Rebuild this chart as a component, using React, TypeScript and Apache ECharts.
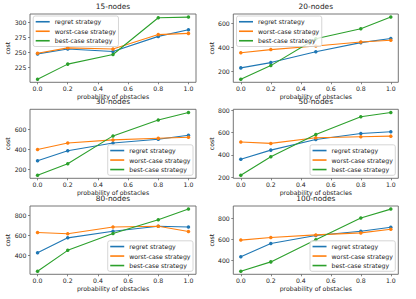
import React, { useEffect, useRef } from 'react';
import * as echarts from 'echarts';

// ---- data ----
const probabilities = [0.0, 0.2, 0.5, 0.8, 1.0];
const seriesNames = ['regret strategy', 'worst-case strategy', 'best-case strategy'];
const subplotTitles = ['15-nodes', '20-nodes', '30-nodes', '50-nodes', '80-nodes', '100-nodes'];

const regret15 = [248, 256, 252, 277, 288];
const worst15 = [249, 258, 256, 280, 282];
const best15 = [206, 231, 247, 308, 309];

const regret20 = [228, 272, 362, 438, 472];
const worst20 = [354, 380, 410, 443, 458];
const best20 = [134, 247, 470, 553, 650];

const regret30 = [286, 386, 463, 500, 540];
const worst30 = [398, 462, 493, 510, 520];
const best30 = [143, 256, 533, 690, 766];

const regret50 = [361, 442, 537, 591, 606];
const worst50 = [514, 502, 552, 561, 567];
const best50 = [218, 382, 582, 740, 779];

const regret80 = [429, 577, 643, 692, 685];
const worst80 = [630, 617, 685, 692, 640];
const best80 = [246, 453, 620, 757, 862];

const regret100 = [437, 562, 637, 678, 716];
const worst100 = [594, 618, 643, 662, 697];
const best100 = [300, 388, 597, 803, 887];

const xTickValues = [0.0, 0.2, 0.4, 0.6, 0.8, 1.0];
const yTicks15 = [225, 250, 275, 300];
const yTicks20 = [200, 400, 600];
const yTicks30 = [200, 400, 600];
const yTicks50 = [200, 400, 600, 800];
const yTicks80 = [400, 600, 800];
const yTicks100 = [400, 600, 800];

const xLabel = 'probability of obstacles';
const yLabel = 'cost';

const panels = [
  { title: subplotTitles[0], values: [regret15, worst15, best15], yTicks: yTicks15 },
  { title: subplotTitles[1], values: [regret20, worst20, best20], yTicks: yTicks20 },
  { title: subplotTitles[2], values: [regret30, worst30, best30], yTicks: yTicks30 },
  { title: subplotTitles[3], values: [regret50, worst50, best50], yTicks: yTicks50 },
  { title: subplotTitles[4], values: [regret80, worst80, best80], yTicks: yTicks80 },
  { title: subplotTitles[5], values: [regret100, worst100, best100], yTicks: yTicks100 },
];

// ---- styling / layout ----
const COLORS = ['#1f77b4', '#ff7f0e', '#2ca02c'];
const FONT = '"DejaVu Sans", Verdana, sans-serif';
const TEXT = '#222';
const FRAME = '#666';
const W = 416;
const H = 299;
const colLeft = [30, 233.3];
const colWidth = [166, 165];
const rowTop = [14, 109.3, 206];
const rowHeight = [68.3, 69, 68.3];
const FS = 6.2;

export default function App() {
  const ref = useRef<HTMLDivElement>(null);

  useEffect(() => {
    if (!ref.current) return;
    const chart = echarts.init(ref.current, undefined, { renderer: 'svg' });

    const grids: any[] = [];
    const xAxes: any[] = [];
    const yAxes: any[] = [];
    const series: any[] = [];
    const titles: any[] = [];
    const legends: any[] = [];

    panels.forEach((p, i) => {
      const col = i % 2;
      const row = Math.floor(i / 2);
      const left = colLeft[col];
      const top = rowTop[row];
      const width = colWidth[col];
      const height = rowHeight[row];

      grids.push({
        left,
        top,
        width,
        height,
        show: true,
        borderColor: FRAME,
        borderWidth: 0.9,
        backgroundColor: 'transparent',
        containLabel: false,
        outerBoundsMode: 'none',
      });

      // matplotlib-like 5% margins
      const xmin = Math.min(...probabilities);
      const xmax = Math.max(...probabilities);
      const xs = xmax - xmin;
      const all = ([] as number[]).concat(...p.values);
      const ymin = Math.min(...all);
      const ymax = Math.max(...all);
      const ys = ymax - ymin;

      xAxes.push({
        type: 'value',
        gridIndex: i,
        min: xmin - xs * 0.05,
        max: xmax + xs * 0.05,
        name: xLabel,
        nameLocation: 'middle',
        nameGap: 11.5,
        nameTextStyle: { fontSize: FS, fontFamily: FONT, color: TEXT },
        axisLine: { show: false, onZero: false },
        axisTick: {
          show: true,
          length: 2,
          customValues: xTickValues,
          lineStyle: { color: FRAME, width: 0.8 },
        },
        axisLabel: {
          show: true,
          customValues: xTickValues,
          formatter: (v: number) => v.toFixed(1),
          fontSize: FS,
          fontFamily: FONT,
          color: TEXT,
          margin: 3.5,
        },
        splitLine: { show: false },
      });

      yAxes.push({
        type: 'value',
        gridIndex: i,
        min: ymin - ys * 0.05,
        max: ymax + ys * 0.05,
        name: yLabel,
        nameLocation: 'middle',
        nameGap: 19,
        nameRotate: 90,
        nameTextStyle: { fontSize: FS, fontFamily: FONT, color: TEXT },
        axisLine: { show: false, onZero: false },
        axisTick: {
          show: true,
          length: 2,
          customValues: p.yTicks,
          lineStyle: { color: FRAME, width: 0.8 },
        },
        axisLabel: {
          show: true,
          customValues: p.yTicks,
          formatter: (v: number) => String(v),
          fontSize: FS,
          fontFamily: FONT,
          color: TEXT,
          margin: 3.5,
        },
        splitLine: { show: false },
      });

      p.values.forEach((vals, k) => {
        series.push({
          type: 'line',
          name: seriesNames[k],
          xAxisIndex: i,
          yAxisIndex: i,
          data: probabilities.map((x, j) => [x, vals[j]]),
          symbol: 'circle',
          symbolSize: 3.5,
          showSymbol: true,
          lineStyle: { color: COLORS[k], width: 1.1 },
          itemStyle: { color: COLORS[k] },
          z: 2 + k * 0.1,
          silent: true,
        });
      });

      titles.push({
        text: p.title,
        left: left + width / 2,
        top: top - 11.5,
        textAlign: 'center',
        padding: 0,
        textStyle: { fontSize: 7.4, fontFamily: FONT, color: TEXT, fontWeight: 'normal' },
      });

      const legendBase: any = {
        data: seriesNames,
        orient: 'vertical',
        icon: 'rect',
        itemWidth: 14,
        itemHeight: 1.6,
        itemGap: 1,
        padding: [1.5, 2.5, 1.5, 2.5],
        backgroundColor: 'rgba(255,255,255,0.8)',
        borderColor: '#cccccc',
        borderWidth: 0.8,
        borderRadius: 2,
        selectedMode: false,
        textStyle: { fontSize: FS, fontFamily: FONT, color: TEXT, lineHeight: 8.5 },
        z: 10,
      };
      if (i < 2) {
        legends.push({ ...legendBase, left: left + 3.2, top: top + 2 });
      } else {
        legends.push({
          ...legendBase,
          right: W - (left + width - 3),
          bottom: H - (top + height - 3),
        });
      }
    });

    chart.setOption({
      animation: false,
      backgroundColor: '#ffffff',
      color: COLORS,
      title: titles,
      legend: legends,
      grid: grids,
      xAxis: xAxes,
      yAxis: yAxes,
      series,
    });

    return () => chart.dispose();
  }, []);

  return (
    <div
      ref={ref}
      style={{ position: 'absolute', left: 0, top: 0, width: W, height: H, background: '#fff' }}
    />
  );
}
